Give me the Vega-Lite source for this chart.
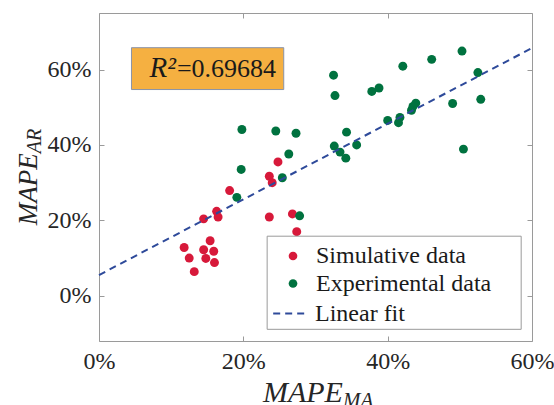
{
  "$schema": "https://vega.github.io/schema/vega-lite/v6.json",
  "width": 433,
  "height": 328,
  "autosize": {"type": "none"},
  "padding": {"left": 99, "top": 13, "right": 22, "bottom": 64},
  "background": "white",
  "config": {
    "font": "Liberation Serif",
    "view": {"stroke": null},
    "axis": {
      "grid": false,
      "domainColor": "#9a9a9a",
      "domainWidth": 1,
      "tickColor": "#9a9a9a",
      "tickWidth": 1,
      "labelFont": "Liberation Serif",
      "labelFontSize": 24,
      "labelColor": "#262626"
    },
    "legend": {
      "labelFont": "Liberation Serif",
      "labelFontSize": 24,
      "labelColor": "#1a1a1a",
      "labelLimit": 400,
      "padding": 0,
      "symbolOffset": 0,
      "rowPadding": 3.5
    }
  },
  "datasets": {
    "points": [
      {"x": 24.8, "y": 35.5, "series": "Simulative data"},
      {"x": 23.6, "y": 31.7, "series": "Simulative data"},
      {"x": 24.0, "y": 30.0, "series": "Simulative data"},
      {"x": 18.1, "y": 27.9, "series": "Simulative data"},
      {"x": 16.3, "y": 22.4, "series": "Simulative data"},
      {"x": 16.5, "y": 20.9, "series": "Simulative data"},
      {"x": 14.5, "y": 20.4, "series": "Simulative data"},
      {"x": 23.6, "y": 20.9, "series": "Simulative data"},
      {"x": 26.8, "y": 21.7, "series": "Simulative data"},
      {"x": 27.4, "y": 17.0, "series": "Simulative data"},
      {"x": 11.8, "y": 12.8, "series": "Simulative data"},
      {"x": 12.5, "y": 10.0, "series": "Simulative data"},
      {"x": 13.2, "y": 6.4, "series": "Simulative data"},
      {"x": 14.5, "y": 12.2, "series": "Simulative data"},
      {"x": 14.8, "y": 9.9, "series": "Simulative data"},
      {"x": 15.4, "y": 14.6, "series": "Simulative data"},
      {"x": 15.9, "y": 11.8, "series": "Simulative data"},
      {"x": 16.0, "y": 8.8, "series": "Simulative data"},
      {"x": 19.8, "y": 44.1, "series": "Experimental data"},
      {"x": 24.5, "y": 43.7, "series": "Experimental data"},
      {"x": 27.3, "y": 43.1, "series": "Experimental data"},
      {"x": 26.3, "y": 37.6, "series": "Experimental data"},
      {"x": 19.7, "y": 33.5, "series": "Experimental data"},
      {"x": 25.4, "y": 31.3, "series": "Experimental data"},
      {"x": 19.1, "y": 26.1, "series": "Experimental data"},
      {"x": 27.8, "y": 21.2, "series": "Experimental data"},
      {"x": 32.5, "y": 58.5, "series": "Experimental data"},
      {"x": 32.7, "y": 53.1, "series": "Experimental data"},
      {"x": 32.6, "y": 39.7, "series": "Experimental data"},
      {"x": 33.4, "y": 38.1, "series": "Experimental data"},
      {"x": 34.2, "y": 36.5, "series": "Experimental data"},
      {"x": 34.3, "y": 43.4, "series": "Experimental data"},
      {"x": 35.7, "y": 40.0, "series": "Experimental data"},
      {"x": 37.8, "y": 54.2, "series": "Experimental data"},
      {"x": 38.8, "y": 55.1, "series": "Experimental data"},
      {"x": 40.0, "y": 46.5, "series": "Experimental data"},
      {"x": 41.5, "y": 45.9, "series": "Experimental data"},
      {"x": 41.7, "y": 47.3, "series": "Experimental data"},
      {"x": 42.1, "y": 60.9, "series": "Experimental data"},
      {"x": 43.3, "y": 49.2, "series": "Experimental data"},
      {"x": 43.5, "y": 50.2, "series": "Experimental data"},
      {"x": 43.9, "y": 51.1, "series": "Experimental data"},
      {"x": 46.1, "y": 62.7, "series": "Experimental data"},
      {"x": 49.0, "y": 51.0, "series": "Experimental data"},
      {"x": 50.3, "y": 64.9, "series": "Experimental data"},
      {"x": 50.5, "y": 38.9, "series": "Experimental data"},
      {"x": 52.5, "y": 59.2, "series": "Experimental data"},
      {"x": 52.9, "y": 52.1, "series": "Experimental data"}
    ],
    "fit": [
      {"x": 0, "y": 5.5, "series": "Linear fit"},
      {"x": 60, "y": 65.7, "series": "Linear fit"}
    ],
    "anchor": [{}]
  },
  "resolve": {"axis": {"x": "independent", "y": "independent"}},
  "layer": [
    {
      "data": {"name": "points"},
      "mark": {"type": "point", "filled": true, "opacity": 1, "size": 80},
      "encoding": {
        "x": {
          "field": "x", "type": "quantitative",
          "scale": {"domain": [0, 60], "nice": false, "zero": false},
          "axis": {
            "orient": "bottom", "values": [0, 20, 40, 60], "tickSize": -5,
            "labelPadding": 13, "labelExpr": "datum.value + '%'",
            "title": null, "labelFlush": false
          }
        },
        "y": {
          "field": "y", "type": "quantitative",
          "scale": {"domain": [-12, 75], "nice": false, "zero": false},
          "axis": {
            "orient": "left", "values": [0, 20, 40, 60], "tickSize": -5,
            "labelPadding": 13, "labelExpr": "datum.value + '%'",
            "title": null
          }
        },
        "color": {
          "field": "series", "type": "nominal",
          "scale": {
            "domain": ["Simulative data", "Experimental data"],
            "range": ["#D7193A", "#00723F"]
          },
          "legend": {
            "title": null,
            "orient": "none",
            "legendX": 182,
            "legendY": 231,
            "direction": "vertical",
            "symbolType": "circle",
            "symbolSize": 75,
            "labelOffset": 11
          }
        }
      }
    },
    {
      "data": {"name": "fit"},
      "mark": {"type": "line", "strokeWidth": 2, "color": "#2E4A9A"},
      "encoding": {
        "x": {
          "field": "x", "type": "quantitative",
          "axis": {"orient": "top", "values": [0, 20, 40, 60], "tickSize": -5, "labels": false, "title": null}
        },
        "y": {
          "field": "y", "type": "quantitative",
          "axis": {"orient": "right", "values": [0, 20, 40, 60], "tickSize": -5, "labels": false, "title": null}
        },
        "strokeDash": {
          "field": "series", "type": "nominal",
          "scale": {"domain": ["Linear fit"], "range": [[7, 5]]},
          "legend": {
            "title": null,
            "orient": "none",
            "legendX": 173,
            "legendY": 282,
            "symbolType": "stroke",
            "symbolSize": 1200,
            "symbolStrokeColor": "#2E4A9A",
            "symbolStrokeWidth": 2,
            "labelOffset": 6
          }
        }
      }
    },
    {
      "data": {"name": "anchor"},
      "mark": {"type": "rect", "fill": "white", "stroke": "#9a9a9a", "strokeWidth": 1},
      "encoding": {
        "x": {"datum": 23.3, "axis": null}, "x2": {"datum": 58.5},
        "y": {"datum": -8.9, "axis": null}, "y2": {"datum": 15.8}
      }
    },
    {
      "data": {"name": "anchor"},
      "mark": {"type": "rect", "fill": "#F5B041", "stroke": "#8a93a8", "strokeWidth": 1},
      "encoding": {
        "x": {"datum": 4.5, "axis": null}, "x2": {"datum": 25.6},
        "y": {"datum": 54.7, "axis": null}, "y2": {"datum": 65.8}
      }
    },
    {
      "data": {"name": "anchor"},
      "mark": {"type": "text", "text": "R²", "font": "Liberation Serif", "fontStyle": "italic", "fontSize": 29, "align": "right", "baseline": "alphabetic", "dx": -1, "color": "#1a1a1a"},
      "encoding": {"x": {"datum": 10.8, "axis": null}, "y": {"datum": 58.0, "axis": null}}
    },
    {
      "data": {"name": "anchor"},
      "mark": {"type": "text", "text": "=0.69684", "font": "Liberation Serif", "fontSize": 26, "align": "left", "baseline": "alphabetic", "color": "#1a1a1a"},
      "encoding": {"x": {"datum": 10.8, "axis": null}, "y": {"datum": 58.0, "axis": null}}
    },
    {
      "data": {"name": "anchor"},
      "mark": {"type": "text", "text": "MAPE", "font": "Liberation Serif", "fontStyle": "italic", "fontSize": 30, "align": "right", "baseline": "alphabetic", "color": "#262626"},
      "encoding": {"x": {"datum": 33.8, "axis": null}, "y": {"datum": -28.1, "axis": null}}
    },
    {
      "data": {"name": "anchor"},
      "mark": {"type": "text", "text": "MA", "font": "Liberation Serif", "fontStyle": "italic", "fontSize": 21, "align": "left", "baseline": "alphabetic", "dy": 5, "color": "#262626"},
      "encoding": {"x": {"datum": 33.8, "axis": null}, "y": {"datum": -28.1, "axis": null}}
    },
    {
      "data": {"name": "anchor"},
      "mark": {"type": "text", "text": "MAPE", "font": "Liberation Serif", "fontStyle": "italic", "fontSize": 27, "align": "right", "baseline": "alphabetic", "angle": 270, "color": "#262626"},
      "encoding": {"x": {"datum": -8.6, "axis": null}, "y": {"datum": 37.8, "axis": null}}
    },
    {
      "data": {"name": "anchor"},
      "mark": {"type": "text", "text": "AR", "font": "Liberation Serif", "fontStyle": "italic", "fontSize": 20, "align": "left", "baseline": "alphabetic", "angle": 270, "dy": 4, "color": "#262626"},
      "encoding": {"x": {"datum": -8.6, "axis": null}, "y": {"datum": 37.8, "axis": null}}
    }
  ]
}
